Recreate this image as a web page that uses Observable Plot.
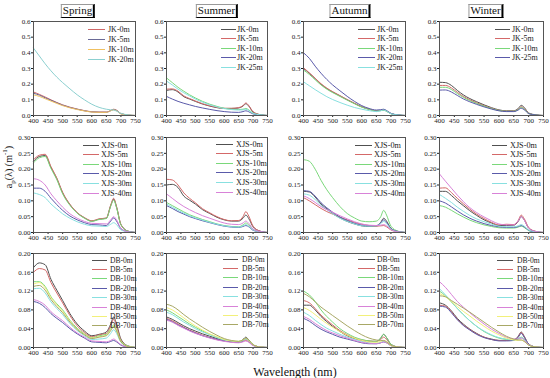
<!DOCTYPE html>
<html><head><meta charset="utf-8">
<script src="https://cdn.jsdelivr.net/npm/d3@7"></script>
<script src="https://cdn.jsdelivr.net/npm/@observablehq/plot@0.6"></script>
<style>
body{margin:0;background:#fff;}
#root{position:relative;width:550px;height:378px;overflow:hidden;font-family:"Liberation Serif","Times New Roman",serif;background:#fff;}
.panel{position:absolute;}
.panel text{font-family:"Liberation Serif",serif;}
.title{position:absolute;font-size:11px;line-height:11px;padding:0 1px 1px 1px;border:1px solid #999;border-right:2px solid #000;border-bottom:1px solid #000;transform:translateX(-50%);color:#111;}
.row{position:absolute;display:flex;align-items:center;font-family:"Liberation Serif",serif;}
.sw{display:inline-block;height:0;}
.ylab{position:absolute;font-size:10px;transform:translate(-50%,-50%) rotate(-90deg);white-space:nowrap;color:#111;}
.xlab{position:absolute;font-size:12px;transform:translate(-50%,-50%);white-space:nowrap;color:#111;font-family:"Liberation Serif",serif;}
</style></head><body><div id="root"></div>
<script>
const wavelengths = [400,420,440,460,480,500,525,550,575,600,625,650,665,675,685,700,725,750];
const xTicks = [400,450,500,550,600,650,700,750];
const seasons = ["Spring","Summer","Autumn","Winter"];

const jkSpringNames = ["JK-0m","JK-5m","JK-10m","JK-20m"];
const jkSpring = [
 [.150,.135,.118,.100,.083,.068,.053,.041,.031,.024,.022,.022,.032,.040,.034,.012,.003,0],
 [.142,.130,.113,.097,.081,.066,.051,.040,.030,.023,.021,.021,.031,.038,.032,.011,.003,0],
 [.132,.122,.107,.092,.077,.063,.049,.038,.029,.022,.020,.020,.030,.036,.030,.010,.003,0],
 [.430,.380,.330,.285,.245,.210,.170,.132,.100,.072,.052,.040,.036,.035,.028,.014,.004,0]];
const jkSummerNames = ["JK-0m","JK-5m","JK-10m","JK-20m","JK-25m"];
const jkSummer = [
 [.160,.165,.150,.120,.105,.090,.073,.060,.050,.045,.045,.048,.060,.075,.060,.022,.005,0],
 [.168,.170,.155,.125,.108,.093,.075,.062,.052,.046,.046,.050,.063,.080,.064,.024,.005,0],
 [.240,.210,.180,.155,.132,.112,.090,.072,.058,.046,.040,.038,.040,.045,.036,.015,.004,0],
 [.122,.105,.090,.078,.068,.058,.048,.039,.031,.025,.021,.020,.025,.030,.024,.010,.003,0],
 [.220,.195,.168,.145,.125,.105,.085,.068,.055,.044,.038,.035,.036,.040,.032,.013,.004,0]];
const jkAutumnNames = ["JK-0m","JK-5m","JK-10m","JK-20m","JK-25m"];
const jkAutumn = [
 [.300,.270,.235,.200,.172,.150,.125,.100,.077,.055,.040,.030,.032,.035,.028,.012,.003,0],
 [.305,.272,.238,.203,.175,.152,.127,.102,.078,.056,.041,.031,.033,.036,.029,.012,.003,0],
 [.290,.262,.228,.195,.168,.146,.122,.098,.075,.053,.039,.029,.031,.034,.027,.011,.003,0],
 [.400,.365,.315,.270,.230,.195,.158,.122,.090,.063,.045,.035,.037,.040,.032,.014,.004,0],
 [.215,.190,.165,.142,.120,.102,.083,.066,.051,.040,.031,.025,.030,.035,.028,.011,.003,0]];
const jkWinterNames = ["JK-0m","JK-5m","JK-10m","JK-25m"];
const jkWinter = [
 [.212,.210,.192,.160,.132,.110,.088,.068,.050,.036,.030,.030,.045,.065,.052,.016,.004,0],
 [.192,.192,.176,.148,.122,.102,.081,.063,.046,.033,.028,.028,.040,.056,.045,.014,.003,0],
 [.180,.180,.166,.140,.116,.097,.077,.060,.044,.032,.027,.027,.038,.052,.042,.013,.003,0],
 [.162,.163,.150,.128,.106,.089,.071,.055,.041,.030,.025,.025,.035,.046,.037,.012,.003,0]];

const xjsNames = ["XJS-0m","XJS-5m","XJS-10m","XJS-20m","XJS-30m","XJS-40m"];
const xjsSpring = [
 [.225,.240,.243,.205,.170,.125,.088,.062,.046,.036,.042,.045,.085,.105,.080,.025,.004,0],
 [.230,.244,.247,.208,.172,.127,.089,.063,.047,.037,.043,.046,.087,.108,.082,.026,.004,0],
 [.220,.236,.240,.202,.167,.122,.086,.061,.045,.035,.041,.044,.083,.102,.078,.024,.004,0],
 [.140,.140,.130,.108,.088,.070,.052,.040,.031,.025,.024,.022,.036,.046,.036,.012,.002,0],
 [.125,.120,.110,.090,.074,.059,.045,.034,.026,.021,.020,.019,.026,.031,.025,.008,.002,0],
 [.170,.165,.150,.122,.100,.080,.059,.045,.035,.029,.028,.027,.040,.050,.040,.013,.002,0]];
const xjsSummer = [
 [.150,.152,.142,.115,.102,.090,.072,.060,.048,.040,.036,.036,.045,.055,.044,.018,.004,0],
 [.168,.166,.150,.125,.108,.094,.075,.062,.050,.041,.037,.038,.050,.066,.052,.020,.004,0],
 [.095,.085,.075,.065,.056,.049,.041,.034,.027,.022,.019,.018,.024,.030,.024,.009,.002,0],
 [.085,.076,.066,.058,.050,.044,.037,.031,.025,.020,.017,.016,.019,.022,.018,.007,.002,0],
 [.090,.080,.070,.061,.053,.046,.039,.032,.026,.021,.018,.017,.021,.025,.020,.008,.002,0],
 [.122,.108,.094,.082,.072,.063,.053,.045,.037,.030,.026,.025,.030,.036,.029,.011,.003,0]];
const xjsAutumn = [
 [.130,.128,.112,.090,.075,.060,.046,.035,.027,.021,.019,.020,.032,.045,.036,.013,.003,0],
 [.110,.100,.088,.076,.066,.058,.048,.040,.032,.026,.022,.020,.021,.022,.018,.008,.002,0],
 [.230,.225,.200,.165,.135,.110,.082,.060,.046,.036,.034,.036,.050,.070,.055,.020,.004,0],
 [.132,.130,.115,.094,.078,.064,.049,.038,.029,.023,.021,.022,.030,.040,.032,.012,.003,0],
 [.122,.118,.104,.086,.072,.059,.045,.035,.027,.021,.020,.021,.028,.035,.028,.011,.002,0],
 [.116,.107,.095,.082,.072,.064,.053,.043,.034,.027,.023,.022,.023,.025,.021,.009,.002,0]];
const xjsWinter = [
 [.130,.130,.117,.100,.085,.070,.054,.040,.030,.022,.022,.023,.035,.050,.040,.014,.003,0],
 [.140,.141,.126,.108,.091,.075,.058,.044,.032,.024,.026,.025,.038,.055,.044,.016,.003,0],
 [.085,.080,.070,.059,.049,.040,.031,.024,.019,.015,.014,.014,.017,.020,.016,.006,.001,0],
 [.100,.093,.081,.068,.056,.046,.036,.028,.022,.018,.016,.016,.019,.022,.018,.007,.001,0],
 [.120,.108,.095,.080,.067,.055,.043,.034,.026,.020,.018,.018,.021,.025,.020,.008,.002,0],
 [.185,.162,.140,.118,.098,.080,.063,.049,.037,.027,.024,.024,.037,.050,.040,.014,.003,0]];

const dbNames = ["DB-0m","DB-5m","DB-10m","DB-20m","DB-30m","DB-40m","DB-50m","DB-70m"];
const dbSpring = [
 [.170,.180,.176,.145,.122,.100,.072,.050,.035,.025,.028,.033,.050,.065,.050,.018,.003,0],
 [.160,.168,.165,.138,.116,.095,.068,.046,.032,.023,.027,.030,.046,.060,.046,.016,.003,0],
 [.140,.140,.130,.108,.093,.080,.058,.041,.029,.021,.025,.028,.040,.048,.038,.014,.003,0],
 [.098,.094,.085,.072,.062,.053,.040,.029,.020,.012,.011,.010,.013,.015,.012,.005,.001,0],
 [.125,.126,.116,.097,.083,.070,.051,.036,.025,.017,.018,.020,.030,.038,.030,.011,.002,0],
 [.102,.098,.090,.076,.066,.057,.043,.031,.022,.014,.013,.012,.015,.018,.014,.006,.001,0],
 [.135,.138,.127,.106,.091,.077,.056,.039,.028,.020,.023,.026,.038,.046,.036,.013,.002,0],
 [.130,.132,.122,.102,.087,.074,.054,.038,.027,.019,.022,.025,.036,.044,.035,.012,.002,0]];
const dbSummer = [
 [.065,.060,.053,.046,.040,.035,.029,.024,.019,.015,.013,.012,.017,.022,.016,.006,.001,0],
 [.062,.057,.050,.043,.037,.032,.026,.021,.017,.014,.012,.011,.013,.015,.012,.005,.001,0],
 [.080,.074,.066,.058,.050,.043,.035,.028,.022,.017,.014,.013,.016,.019,.015,.006,.001,0],
 [.060,.055,.048,.042,.036,.031,.025,.021,.017,.014,.012,.011,.014,.018,.014,.005,.001,0],
 [.075,.070,.062,.054,.047,.040,.033,.027,.021,.016,.014,.012,.015,.018,.014,.005,.001,0],
 [.058,.054,.047,.041,.035,.030,.025,.020,.016,.013,.011,.010,.012,.014,.011,.004,.001,0],
 [.085,.080,.072,.063,.054,.046,.037,.029,.023,.017,.014,.013,.016,.019,.015,.006,.001,0],
 [.092,.088,.080,.070,.061,.053,.043,.034,.026,.019,.015,.013,.016,.020,.016,.006,.001,0]];
const dbAutumn = [
 [.090,.090,.080,.066,.055,.045,.034,.025,.019,.015,.013,.013,.020,.028,.021,.007,.001,0],
 [.100,.095,.083,.069,.058,.048,.036,.027,.020,.016,.014,.013,.017,.022,.017,.006,.001,0],
 [.120,.112,.098,.080,.066,.054,.040,.030,.022,.017,.014,.013,.020,.028,.021,.007,.001,0],
 [.062,.056,.047,.039,.033,.028,.022,.018,.014,.010,.008,.008,.010,.012,.010,.004,.001,0],
 [.075,.068,.058,.049,.041,.035,.028,.022,.017,.013,.010,.009,.011,.013,.011,.004,.001,0],
 [.066,.060,.051,.043,.036,.031,.025,.020,.015,.011,.009,.008,.010,.012,.010,.004,.001,0],
 [.085,.079,.070,.060,.051,.043,.034,.026,.020,.015,.012,.011,.013,.015,.012,.004,.001,0],
 [.115,.108,.097,.086,.077,.068,.057,.046,.036,.027,.020,.016,.015,.015,.012,.005,.001,0]];
const dbWinter = [
 [.095,.090,.078,.062,.050,.040,.030,.022,.018,.015,.015,.016,.024,.033,.024,.007,.001,0],
 [.090,.088,.076,.060,.048,.039,.029,.022,.017,.015,.015,.016,.023,.032,.023,.007,.001,0],
 [.120,.110,.097,.083,.070,.058,.045,.034,.026,.020,.017,.016,.019,.022,.018,.006,.001,0],
 [.088,.086,.074,.059,.047,.038,.028,.021,.017,.014,.014,.015,.022,.030,.022,.007,.001,0],
 [.125,.112,.098,.083,.070,.058,.045,.035,.027,.021,.018,.016,.018,.021,.017,.006,.001,0],
 [.140,.128,.113,.098,.086,.075,.062,.050,.039,.030,.022,.018,.018,.020,.016,.006,.001,0],
 [.115,.108,.098,.087,.077,.068,.056,.045,.035,.027,.020,.016,.015,.016,.013,.005,.001,0],
 [.110,.108,.100,.092,.084,.076,.065,.054,.043,.033,.024,.018,.016,.016,.013,.005,.001,0]];

const seriesColors = ["#505050","#d46868","#7ad87a","#5a5aaa","#88e0e0","#d882d8","#f2f07a","#a8a866"];
const springJkColors = ["#d06868","#6a6a96","#f0c060","#8cd0d0"];

const rows = [
 {top:21, h:94, ymax:0.6, yTicks:[0,.1,.2,.3,.4,.5,.6], fmt:".1f"},
 {top:137, h:95, ymax:0.30, yTicks:[0,.05,.10,.15,.20,.25,.30], fmt:".2f"},
 {top:253, h:94, ymax:0.20, yTicks:[0,.04,.08,.12,.16,.20], fmt:".2f"}];
const cols = [{left:33,w:102},{left:166,w:101},{left:303,w:102},{left:439,w:104}];

const panels = [
 {r:0,c:0,names:jkSpringNames,values:jkSpring,colors:springJkColors,lg:[88,17,108,29,10,8]},
 {r:0,c:1,names:jkSummerNames,values:jkSummer,lg:[221,15,237,29,9.6,8]},
 {r:0,c:2,names:jkAutumnNames,values:jkAutumn,lg:[358,17,377,29,9.6,8]},
 {r:0,c:3,names:jkWinterNames,values:jkWinter,lg:[495,15,512,29,9.6,8]},
 {r:1,c:0,names:xjsNames,values:xjsSpring,lg:[83,16,101,145,9.6,8.2]},
 {r:1,c:1,names:xjsNames,values:xjsSummer,lg:[216,17,236,144,9.6,8.2]},
 {r:1,c:2,names:xjsNames,values:xjsAutumn,lg:[355,17,374,145,9.6,8.2]},
 {r:1,c:3,names:xjsNames,values:xjsWinter,lg:[492,15,510,145,9.6,8.2]},
 {r:2,c:0,names:dbNames,values:dbSpring,lg:[92,15,110,260,9.4,7.6]},
 {r:2,c:1,names:dbNames,values:dbSummer,lg:[223,15,242,259,9.4,7.6]},
 {r:2,c:2,names:dbNames,values:dbAutumn,lg:[358,17,377,259,9.4,7.6]},
 {r:2,c:3,names:dbNames,values:dbWinter,lg:[497,16,517,260,9.4,7.6]}];

const root = document.getElementById("root");
const ML = 30, MR = 6, MT = 5, MB = 14;

for (const p of panels) {
  const row = rows[p.r], col = cols[p.c];
  const colors = p.colors || seriesColors.slice(0, p.names.length);
  const data = [];
  p.names.forEach((name, i) => p.values[i].forEach((v, j) => data.push({name, w: wavelengths[j], v})));
  const chart = Plot.plot({
    width: ML + col.w + MR, height: MT + row.h + MB,
    marginLeft: ML, marginRight: MR, marginTop: MT, marginBottom: MB,
    style: {fontFamily: '"Liberation Serif", serif', fontSize: "7px", color: "#222", background: "transparent", overflow: "visible"},
    x: {domain: [400, 750], ticks: xTicks, tickSize: 2, tickPadding: 1, label: null, tickFormat: d3.format("d")},
    y: {domain: [0, row.ymax], ticks: row.yTicks, tickFormat: d3.format(row.fmt), tickSize: 2, tickPadding: 1, label: null},
    color: {domain: p.names, range: colors},
    marks: [
      Plot.line(data, {x: "w", y: "v", z: "name", stroke: "name", strokeWidth: 1, curve: "monotone-x"}),
      Plot.frame({stroke: "#555"})
    ]
  });
  chart.classList.add("panel");
  chart.style.left = (col.left - ML) + "px";
  chart.style.top = (row.top - MT) + "px";
  root.appendChild(chart);

  const [lx, len, tx, y0, sp, fs] = p.lg;
  p.names.forEach((name, i) => {
    const d = document.createElement("div");
    d.className = "row";
    d.style.left = lx + "px";
    d.style.top = (y0 + i * sp - 6) + "px";
    d.style.height = "12px";
    d.style.fontSize = fs + "px";
    d.innerHTML = `<span class="sw" style="width:${len}px;border-top:1.2px solid ${colors[i]}"></span><span style="margin-left:${tx - lx - len}px;color:#222">${name}</span>`;
    root.appendChild(d);
  });
}

const titleCenters = [78, 217, 350, 486];
seasons.forEach((s, i) => {
  const t = document.createElement("div");
  t.className = "title";
  t.textContent = s;
  t.style.left = titleCenters[i] + "px";
  t.style.top = "4px";
  root.appendChild(t);
});

const yl = document.createElement("div");
yl.className = "ylab";
yl.innerHTML = "a<sub style='font-size:7px'>p</sub>(λ) (m<sup style='font-size:7px'>-1</sup>)";
yl.style.left = "9px"; yl.style.top = "167px";
root.appendChild(yl);

const xl = document.createElement("div");
xl.className = "xlab";
xl.textContent = "Wavelength (nm)";
xl.style.left = "295px"; xl.style.top = "372px";
root.appendChild(xl);
</script></body></html>
